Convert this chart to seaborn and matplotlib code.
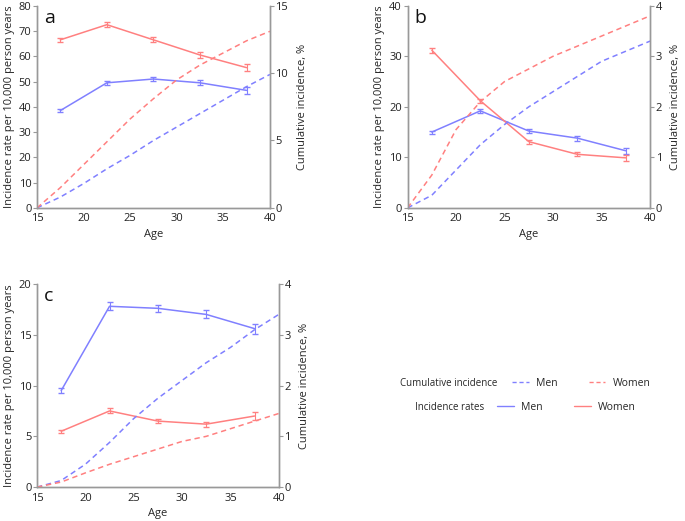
import numpy as np
import pandas as pd
import matplotlib
matplotlib.use("Agg")
import matplotlib.pyplot as plt
import seaborn as sns
from matplotlib.lines import Line2D

# age groups (midpoints) for incidence rates
age_mid = [17.5, 22.5, 27.5, 32.5, 37.5]
# ages for cumulative incidence curves
age_cum = [15, 17.5, 20, 22.5, 25, 27.5, 30, 32.5, 35, 37.5, 40]

# panel a
a_rate_men = [38.5, 49.5, 51.0, 49.5, 46.5]
a_rate_women = [66.5, 72.5, 66.5, 60.5, 55.5]
a_err_men = [0.6, 0.8, 0.9, 1.0, 1.3]
a_err_women = [0.8, 0.9, 1.0, 1.2, 1.4]
a_cum_men = [0, 0.8, 1.8, 2.9, 3.9, 5.0, 6.0, 7.0, 8.0, 9.0, 9.9]
a_cum_women = [0, 1.5, 3.2, 4.9, 6.6, 8.1, 9.5, 10.6, 11.5, 12.4, 13.1]

# panel b
b_rate_men = [15.0, 19.2, 15.2, 13.8, 11.3]
b_rate_women = [31.2, 21.2, 13.1, 10.6, 9.9]
b_err_men = [0.3, 0.4, 0.4, 0.5, 0.6]
b_err_women = [0.5, 0.4, 0.4, 0.4, 0.6]
b_cum_men = [0, 0.25, 0.75, 1.25, 1.65, 2.0, 2.3, 2.6, 2.9, 3.1, 3.3]
b_cum_women = [0, 0.65, 1.55, 2.1, 2.5, 2.75, 3.0, 3.2, 3.4, 3.6, 3.8]

# panel c
c_rate_men = [9.5, 17.8, 17.6, 17.0, 15.6]
c_rate_women = [5.5, 7.5, 6.5, 6.2, 7.0]
c_err_men = [0.25, 0.4, 0.35, 0.4, 0.5]
c_err_women = [0.15, 0.25, 0.2, 0.25, 0.4]
c_cum_men = [0, 0.13, 0.45, 0.88, 1.35, 1.75, 2.1, 2.45, 2.75, 3.1, 3.4]
c_cum_women = [0, 0.1, 0.28, 0.45, 0.6, 0.75, 0.9, 1.0, 1.15, 1.3, 1.45]

blue = "#8080ff"
red = "#ff8080"

sns.set_style("white")
plt.rcParams["font.family"] = ["Open Sans", "DejaVu Sans"]

fig = plt.figure(figsize=(6.85, 5.21), dpi=100)


def panel(rect, label, rate_m, rate_w, err_m, err_w, cum_m, cum_w, ymax, cmax, ystep, cstep):
    ax = fig.add_axes(rect)
    ax2 = ax.twinx()
    rates = pd.DataFrame({"age": age_mid * 2,
                          "rate": rate_m + rate_w,
                          "sex": ["Men"] * 5 + ["Women"] * 5})
    cum = pd.DataFrame({"age": age_cum * 2,
                        "cum": cum_m + cum_w,
                        "sex": ["Men"] * len(age_cum) + ["Women"] * len(age_cum)})
    sns.lineplot(data=rates, x="age", y="rate", hue="sex", palette=[blue, red],
                 ax=ax, legend=False, lw=1.1)
    ax.errorbar(age_mid, rate_m, yerr=err_m, fmt="none", ecolor=blue, capsize=2, lw=0.8)
    ax.errorbar(age_mid, rate_w, yerr=err_w, fmt="none", ecolor=red, capsize=2, lw=0.8)
    sns.lineplot(data=cum, x="age", y="cum", hue="sex", palette=[blue, red],
                 ax=ax2, legend=False, lw=1.1, linestyle=(0, (3.5, 2.5)))
    ax.set_xlim(15, 40)
    ax.set_ylim(0, ymax)
    ax2.set_ylim(0, cmax)
    ax.set_xticks(range(15, 41, 5))
    ax.set_yticks(np.arange(0, ymax + 0.1, ystep))
    ax2.set_yticks(np.arange(0, cmax + 0.01, cstep))
    ax2.set_yticklabels([f"{v:g}" for v in np.arange(0, cmax + 0.01, cstep)])
    for a in (ax, ax2):
        a.spines["top"].set_visible(False)
        for s in ("left", "right", "bottom"):
            a.spines[s].set_color("#999999")
            a.spines[s].set_linewidth(1.0)
        a.tick_params(labelsize=8, length=3, width=0.8, color="#999999",
                      labelcolor="#222222", pad=1)
    ax.set_xlabel("Age", fontsize=8, labelpad=3)
    ax.set_ylabel("Incidence rate per 10,000 person years", fontsize=8, labelpad=3)
    ax2.set_ylabel("Cumulative incidence, %", fontsize=8, labelpad=6)
    ax.text(0.03, 0.985, label, transform=ax.transAxes, fontsize=14,
            va="top", ha="left", color="#111111")
    return ax


panel([0.054, 0.601, 0.340, 0.388], "a", a_rate_men, a_rate_women, a_err_men, a_err_women,
      a_cum_men, a_cum_women, 80, 15, 10, 5)
panel([0.595, 0.601, 0.354, 0.388], "b", b_rate_men, b_rate_women, b_err_men, b_err_women,
      b_cum_men, b_cum_women, 40, 4, 10, 1)
panel([0.054, 0.065, 0.353, 0.390], "c", c_rate_men, c_rate_women, c_err_men, c_err_women,
      c_cum_men, c_cum_women, 20, 4, 5, 1)

# legend block
fig.text(400 / 685, 1 - 383 / 521, "Cumulative incidence", fontsize=7, va="center")
fig.text(415 / 685, 1 - 407 / 521, "Incidence rates", fontsize=7, va="center")
h_cum = [Line2D([], [], color=blue, lw=1, linestyle=(0, (3, 2))),
         Line2D([], [], color=red, lw=1, linestyle=(0, (3, 2)))]
h_rate = [Line2D([], [], color=blue, lw=1), Line2D([], [], color=red, lw=1)]
fig.legend(h_cum, ["Men", "Women"], ncol=2, frameon=False, fontsize=7.5,
           loc="center left", bbox_to_anchor=(512 / 685, 1 - 383 / 521),
           handlelength=1.6, columnspacing=3.0, handletextpad=0.7, borderaxespad=0, borderpad=0)
fig.legend(h_rate, ["Men", "Women"], ncol=2, frameon=False, fontsize=7.5,
           loc="center left", bbox_to_anchor=(497 / 685, 1 - 407 / 521),
           handlelength=1.6, columnspacing=3.0, handletextpad=0.7, borderaxespad=0, borderpad=0)

fig.savefig("out.png", dpi=100)
